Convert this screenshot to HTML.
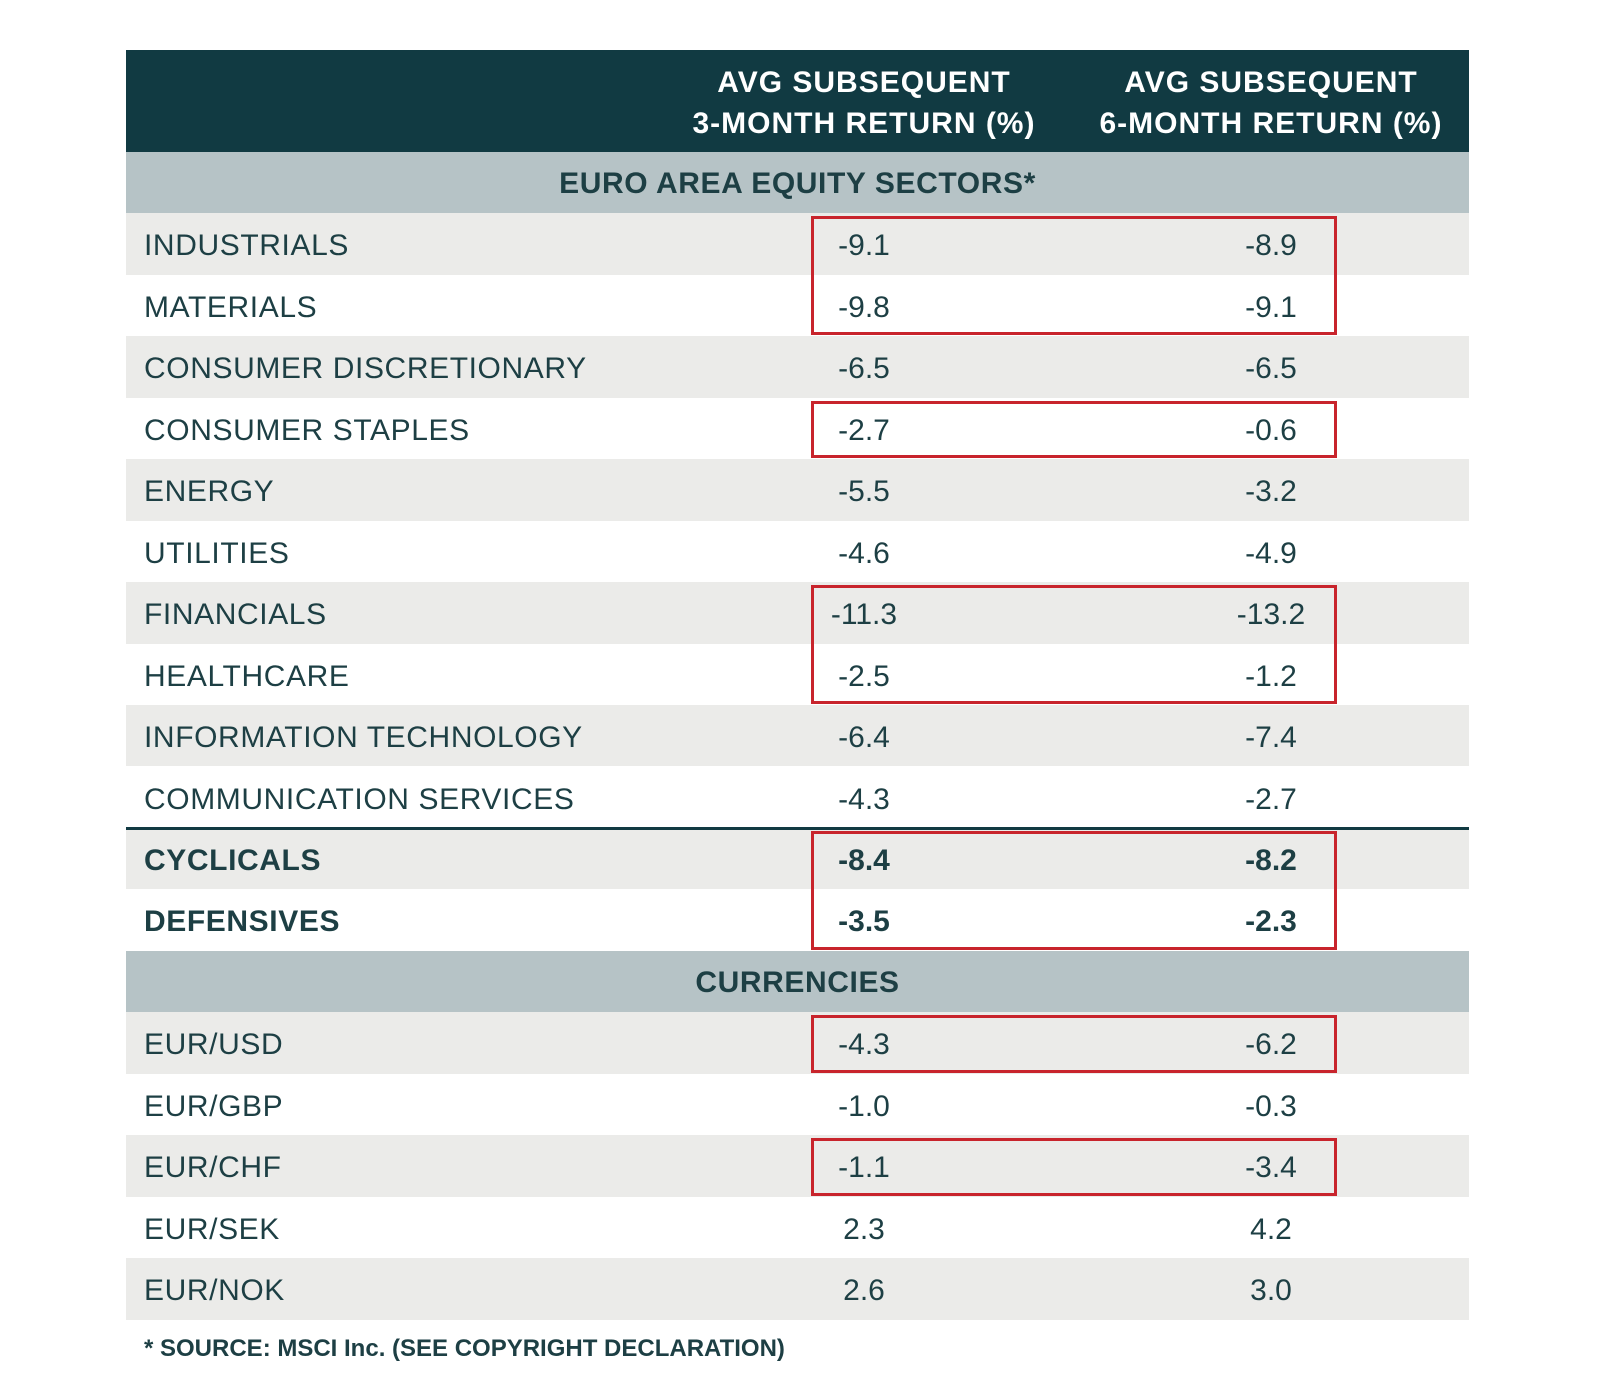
<!DOCTYPE html>
<html><head><meta charset="utf-8"><style>
body{margin:0;width:1600px;height:1391px;background:#fff;position:relative;font-family:"Liberation Sans",sans-serif;color:#1d3f44;overflow:hidden}
.a{position:absolute}
.cell{position:absolute;height:61px;line-height:61px;font-size:30px;white-space:nowrap}
.lbl{letter-spacing:0.6px}
.hdr{position:absolute;left:126px;top:50px;width:1343px;height:102px;background:#113a42}
.ht{position:absolute;color:#fff;font-weight:bold;font-size:30px;letter-spacing:1px;line-height:41px;text-align:center;width:440px;top:62px}
.box{position:absolute;border:3px solid #c8242c;box-sizing:border-box;left:811px;width:526px}
</style></head><body>
<div class="hdr"></div>
<div class="ht" style="left:644px">AVG SUBSEQUENT<br>3-MONTH RETURN (%)</div>
<div class="ht" style="left:1051px">AVG SUBSEQUENT<br>6-MONTH RETURN (%)</div>
<div id="t"></div>
<div class="a" style="left:144px;top:1335px;font-size:24px;font-weight:bold;">* SOURCE: MSCI Inc. (SEE COPYRIGHT DECLARATION)</div>
<script>
const labels=["EURO AREA EQUITY SECTORS*","INDUSTRIALS","MATERIALS","CONSUMER DISCRETIONARY","CONSUMER STAPLES","ENERGY","UTILITIES","FINANCIALS","HEALTHCARE","INFORMATION TECHNOLOGY","COMMUNICATION SERVICES","CYCLICALS","DEFENSIVES","CURRENCIES","EUR/USD","EUR/GBP","EUR/CHF","EUR/SEK","EUR/NOK"];
const ret3=[null,"-9.1","-9.8","-6.5","-2.7","-5.5","-4.6","-11.3","-2.5","-6.4","-4.3","-8.4","-3.5",null,"-4.3","-1.0","-1.1","2.3","2.6"];
const ret6=[null,"-8.9","-9.1","-6.5","-0.6","-3.2","-4.9","-13.2","-1.2","-7.4","-2.7","-8.2","-2.3",null,"-6.2","-0.3","-3.4","4.2","3.0"];
const sections=[0,13];
const boldRows=[11,12];
const highlights=[[1,2],[4,4],[7,8],[11,12],[14,14],[16,16]];
const t=document.getElementById('t');
const top0=152,rh=61.45;
let alt=0;
labels.forEach((l,i)=>{
  const y=top0+i*rh;
  const bg=document.createElement('div');
  bg.className='a';
  
  
  let col='#fff';
  if(sections.includes(i)){col='#b6c3c6';alt=0;}
  else{col=(alt%2==0)?'#ebebe9':'#fff';alt++;}
  bg.style.cssText=`left:126px;top:${y}px;width:1343px;height:${rh}px;background:${col}`;
  t.appendChild(bg);
  if(sections.includes(i)){
    const s=document.createElement('div');s.className='cell lbl';
    
    
    s.style.cssText=`left:126px;width:1343px;text-align:center;top:${y+1}px;font-weight:bold;`;
    s.textContent=l;t.appendChild(s);return;
  }
  const b=boldRows.includes(i)?'font-weight:bold;':'';
  const c=document.createElement('div');c.className='cell lbl';
  
  
  c.style.cssText=`left:144px;top:${y+2}px;${b}`;c.textContent=l;t.appendChild(c);
  [[ret3[i],864],[ret6[i],1271]].forEach(([v,x])=>{
    const d=document.createElement('div');d.className='cell';
    
    
    d.style.cssText=`left:${x-100}px;width:200px;text-align:center;top:${y+2}px;${b}`;d.textContent=v;t.appendChild(d);
  });
});
const ln=document.createElement('div');ln.className='a';


ln.style.cssText=`left:126px;width:1343px;height:3px;background:#113a42;top:${top0+11*rh-1}px`;t.appendChild(ln);
highlights.forEach(([a,z])=>{
  const bx=document.createElement('div');bx.className='box';
  
  
  const y1=top0+a*rh+3,y2=top0+(z+1)*rh-1;
  bx.style.top=y1+'px';bx.style.height=(y2-y1)+'px';t.appendChild(bx);
});
</script>
</body></html>
